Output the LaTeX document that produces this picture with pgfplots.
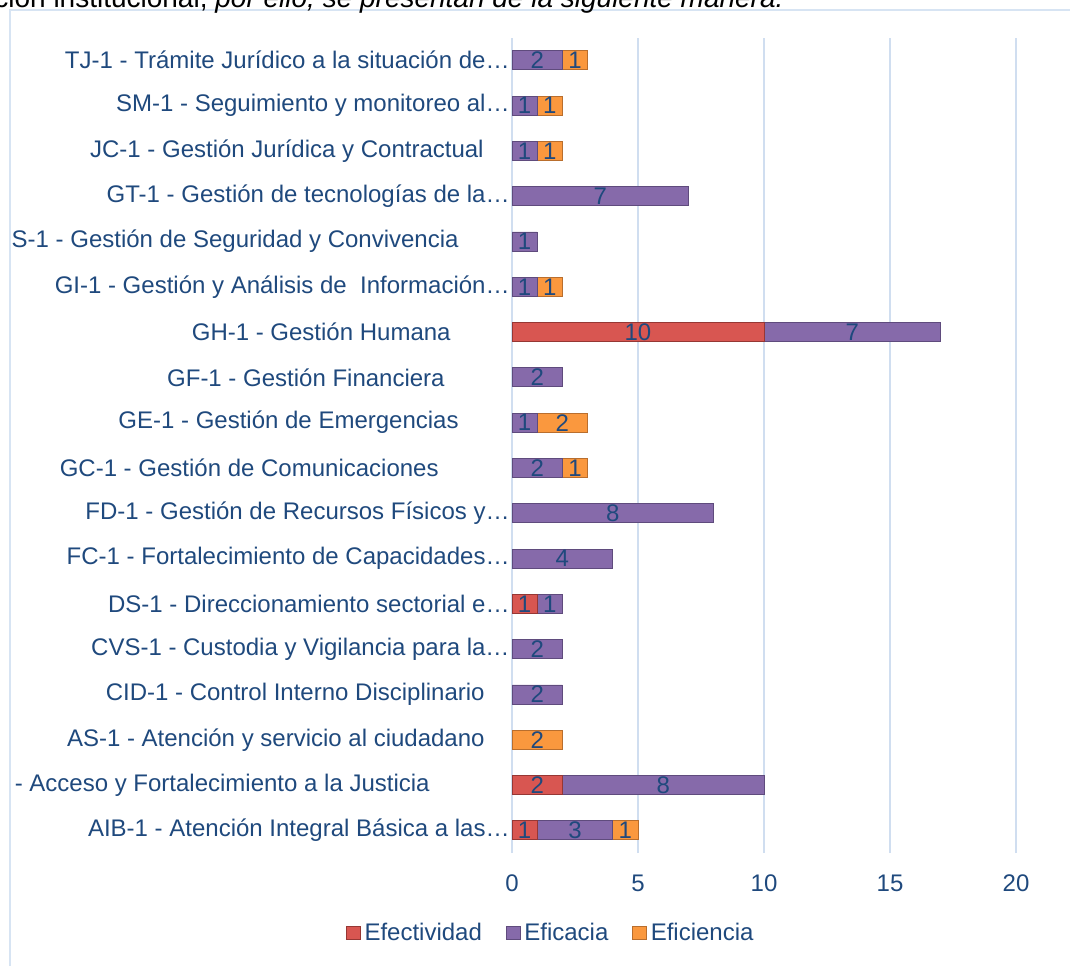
\documentclass[border=0pt]{standalone}
\usepackage{fontspec}
\setmainfont{Liberation Sans}
\usepackage{pgfplots}
\pgfplotsset{compat=1.18}
\definecolor{txt}{RGB}{31,73,125}
\definecolor{gridc}{RGB}{208,222,240}
\definecolor{framec}{RGB}{215,228,243}
\definecolor{redM}{RGB}{216,86,81}
\definecolor{redD}{RGB}{150,55,52}
\definecolor{purM}{RGB}{134,106,170}
\definecolor{purD}{RGB}{95,75,125}
\definecolor{orgM}{RGB}{250,152,62}
\definecolor{orgD}{RGB}{185,110,45}
\pgfplotsset{
  sqlegend/.style={legend image code/.code={\draw[##1] (0pt,-3.4pt) rectangle (6.8pt,3.4pt);}},
}
\begin{document}
\begin{tikzpicture}[x=1pt,y=1pt]
\begin{axis}[
  at={(256pt,56.5pt)}, anchor=south west,
  x=12.6pt, y=22.65pt,
  xmin=0, xmax=20, ymin=-0.5, ymax=17.5,
  xbar stacked, bar width=9.5pt,
  axis line style={draw=none},
  major tick length=0pt,
  xmajorgrids, grid style={draw=gridc, line width=1pt},
  xtick={0,5,10,15,20},
  ytick={0,...,17},
  yticklabels={
    {AIB-1 - Atención Integral Básica a las…\hspace*{1pt}},
    {- Acceso y Fortalecimiento a la Justicia\hspace*{41pt}},
    {AS-1 - Atención y servicio al ciudadano\hspace*{13.5pt}},
    {CID-1 - Control Interno Disciplinario\hspace*{13.5pt}},
    {CVS-1 - Custodia y Vigilancia para la…\hspace*{1pt}},
    {DS-1 - Direccionamiento sectorial e…\hspace*{1pt}},
    {FC-1 - Fortalecimiento de Capacidades…\hspace*{1pt}},
    {FD-1 - Gestión de Recursos Físicos y…\hspace*{1pt}},
    {GC-1 - Gestión de Comunicaciones\hspace*{36.5pt}},
    {GE-1 - Gestión de Emergencias\hspace*{26.5pt}},
    {GF-1 - Gestión Financiera\hspace*{33.5pt}},
    {GH-1 - Gestión Humana\hspace*{30.5pt}},
    {GI-1 - Gestión y Análisis de~ Información…\hspace*{1pt}},
    {S-1 - Gestión de Seguridad y Convivencia\hspace*{26.5pt}},
    {GT-1 - Gestión de tecnologías de la…\hspace*{1pt}},
    {JC-1 - Gestión Jurídica y Contractual\hspace*{14pt}},
    {SM-1 - Seguimiento y monitoreo al…\hspace*{1pt}},
    {TJ-1 - Trámite Jurídico a la situación de…\hspace*{1pt}}
  },
  tick label style={font=\fontsize{12}{14}\selectfont, text=txt},
  yticklabel style={anchor=east, inner sep=0pt},
  xticklabel style={anchor=center, inner sep=0pt, yshift=-15pt},
  /pgf/number format/assume math mode=true,
  visualization depends on={rawx \as \rawx},
  nodes near coords={\ifdim\rawx pt>0pt \pgfmathprintnumber{\rawx}\fi},
  nodes near coords style={font=\fontsize{12}{14}\selectfont, text=txt, anchor=center, inner sep=0pt},
  legend columns=3,
  legend style={draw=none, fill=none, at={(0.079,-0.098)}, anchor=center,
    font=\fontsize{12}{14}\selectfont, text=txt,
    /tikz/every even column/.append style={column sep=10pt},
    /tikz/every odd column/.append style={column sep=0pt}},
]
\addplot[sqlegend, draw=redD, fill=redM] coordinates {
(1,0) (2,1) (0,2) (0,3) (0,4) (1,5) (0,6) (0,7) (0,8) (0,9) (0,10) (10,11) (0,12) (0,13) (0,14) (0,15) (0,16) (0,17)};
\addlegendentry{Efectividad}
\addplot[sqlegend, draw=purD, fill=purM] coordinates {
(3,0) (8,1) (0,2) (2,3) (2,4) (1,5) (4,6) (8,7) (2,8) (1,9) (2,10) (7,11) (1,12) (1,13) (7,14) (1,15) (1,16) (2,17)};
\addlegendentry{Eficacia}
\addplot[sqlegend, draw=orgD, fill=orgM] coordinates {
(1,0) (0,1) (2,2) (0,3) (0,4) (0,5) (0,6) (0,7) (1,8) (2,9) (0,10) (0,11) (1,12) (0,13) (0,14) (1,15) (1,16) (1,17)};
\addlegendentry{Eficiencia}
\end{axis}
\draw[framec, line width=1pt] (5pt,0pt) -- (5pt,478pt) -- (540pt,478pt);
\node[anchor=base west, inner sep=0pt, font=\fontsize{14}{16}\selectfont] at (-3pt,479pt) {ción institucional, \textit{por ello, se presentan de la siguiente manera:}};
\pgfresetboundingbox
\path[use as bounding box] (0pt,0pt) rectangle (535pt,483pt);
\end{tikzpicture}
\end{document}
